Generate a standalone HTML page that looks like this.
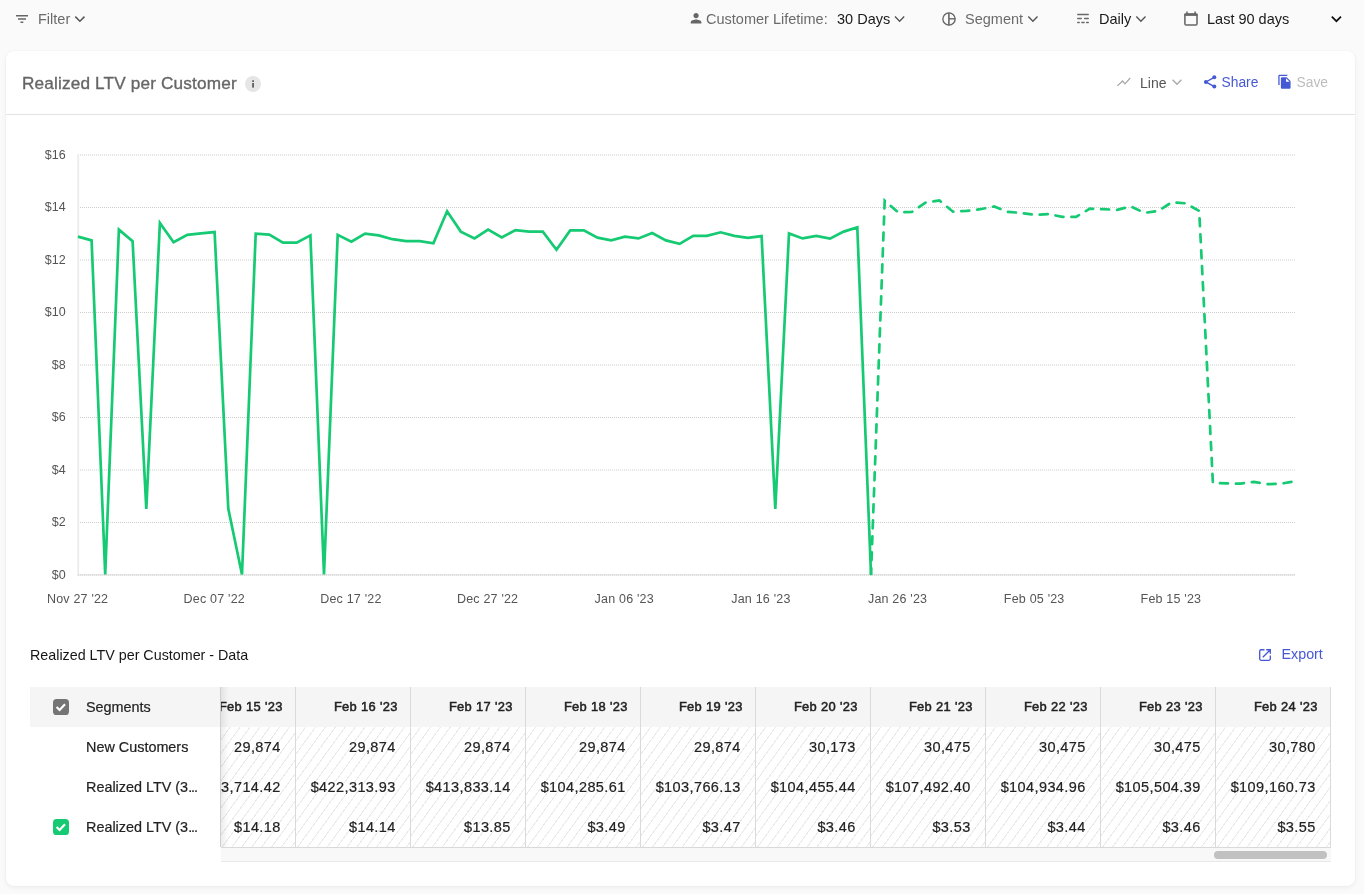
<!DOCTYPE html>
<html lang="en"><head><meta charset="utf-8"><title>Realized LTV per Customer</title>
<style>
*{box-sizing:border-box;margin:0;padding:0}
html,body{width:1364px;height:894px;overflow:hidden;background:#fafafa;font-family:"Liberation Sans",sans-serif;color:#222}
.abs{position:absolute}
.top span{position:absolute;top:10px;font-size:14.5px;line-height:18px;white-space:nowrap}
.grey{color:#6b6b6b}
.card{position:absolute;left:6px;top:51px;width:1349px;height:835px;background:#fff;border-radius:8px;box-shadow:0 2px 5px rgba(0,0,0,.05),0 0 2px rgba(0,0,0,.05)}
.hr{position:absolute;left:6px;top:114px;width:1349px;height:1px;background:#e3e3e3}
.title{position:absolute;left:22px;top:73px;font-size:17.2px;line-height:20px;color:#666;font-weight:400;letter-spacing:.16px;white-space:nowrap;-webkit-text-stroke:.35px #666}
.yl,.xl{font-size:12.5px;fill:#555;font-family:"Liberation Sans",sans-serif}
.xl{letter-spacing:.2px}
.sub{position:absolute;left:30px;top:646px;font-size:14.300px;line-height:18px;color:#161616;white-space:nowrap}
.exp{position:absolute;left:1281.500px;top:645px;font-size:14.300px;line-height:18px;color:#4659d4;white-space:nowrap}
.fix{position:absolute;left:30px;top:687px;width:190px;height:160px;background:#fff}
.fix .h{position:absolute;left:0;top:0;width:190px;height:40px;background:#f5f5f5}
.fix span{position:absolute;left:56px;font-size:14.400px;line-height:18px;white-space:nowrap;color:#222;-webkit-text-stroke:.2px #222}
.fix i{font-style:normal;letter-spacing:-1.100px}
.scroll{position:absolute;left:221px;top:687px;width:1110px;height:175px;overflow:hidden}
.inner{position:absolute;right:0;top:0;width:1150px;height:161px;border-bottom:1px solid #d9d9d9}
.inner{display:flex}
.col{width:115px;height:160px;border-right:1px solid #dadada;flex:none}
.bd{height:120px;background:repeating-linear-gradient(126deg,#e9e9e9 0,#e9e9e9 .250px,#fff .450px,#fff 7.250px,#e9e9e9 7.450px,#e9e9e9 8px)}
.td{height:40px;text-align:right;padding:11px 14.300px 0 0;font-size:14.500px;letter-spacing:.400px;line-height:18px;white-space:nowrap;color:#222;-webkit-text-stroke:.2px #222}
.th{background:#f5f5f5;font-weight:400;-webkit-text-stroke:.5px #222;font-size:12.900px;letter-spacing:.330px;padding-right:12.300px;color:#222}
.track{position:absolute;left:0;top:161px;width:1110px;height:14px;background:#f8f8f8;border-bottom:1px solid #e8e8e8}
.thumb{position:absolute;left:993px;top:3px;width:113px;height:8px;border-radius:4px;background:#c1c1c1}
.shadow{position:absolute;left:220px;top:687px;width:9px;height:160px;background:linear-gradient(90deg,rgba(0,0,0,.07),rgba(0,0,0,0));border-left:1px solid #cfcfcf}
</style></head><body>
<div class="top">
 <span class="grey" style="left:38px">Filter</span>
 <span class="grey" style="left:706px">Customer Lifetime:</span>
 <span style="left:837px;color:#1a1a1a">30 Days</span>
 <span class="grey" style="left:965px">Segment</span>
 <span style="left:1099px;color:#1a1a1a">Daily</span>
 <span style="left:1207px;color:#1a1a1a">Last 90 days</span>
</div>
<div class="card"></div>
<div class="title">Realized LTV per Customer</div>
<div class="abs" style="left:1140px;top:74px;font-size:14px;line-height:18px;color:#555">Line</div>
<div class="abs" style="left:1221.500px;top:74px;font-size:13.800px;line-height:18px;color:#4659d4">Share</div>
<div class="abs" style="left:1296.600px;top:74px;font-size:13.800px;line-height:18px;color:#bdbdbd">Save</div>
<svg class="abs" style="left:0;top:0" width="1364" height="120" viewBox="0 0 1364 120">
 <!-- filter -->
 <path d="M16 15.650h12M18 19.050h8M20.500 22.300h2.800" stroke="#666" stroke-width="1.500" fill="none"/>
 <path d="M75.300 16.600l4.600 4.600 4.600-4.600" fill="none" stroke="#555" stroke-width="1.500"/>
 <!-- person -->
 <g transform="translate(688.060,10.270) scale(.6667)"><path d="M12 12c2.210 0 4-1.790 4-4s-1.790-4-4-4-4 1.790-4 4 1.790 4 4 4zm0 2c-2.670 0-8 1.340-8 4v2h16v-2c0-2.660-5.330-4-8-4z" fill="#666"/></g>
 <path d="M895 16.600l4.600 4.600 4.600-4.600" fill="none" stroke="#555" stroke-width="1.400"/>
 <!-- segment -->
 <circle cx="949" cy="19" r="6.150" fill="none" stroke="#666" stroke-width="1.350"/>
 <path d="M948.900 12.800v12.400" stroke="#666" stroke-width="1.600" fill="none"/><path d="M949 18.800h6.200" stroke="#666" stroke-width="1.400" fill="none"/>
 <path d="M1028.300 16.600l4.600 4.600 4.600-4.600" fill="none" stroke="#555" stroke-width="1.400"/>
 <!-- daily -->
 <path d="M1077.700 14.500h10.600M1077.700 18.500h3.600M1084.550 18.500h3.750M1077.700 22.500h1.600M1081.800 22.500h2.400M1086.600 22.500h1.700" stroke="#6a6a6a" stroke-width="1.300" stroke-linecap="round" fill="none"/>
 <path d="M1136.300 16.600l4.600 4.600 4.600-4.600" fill="none" stroke="#555" stroke-width="1.400"/>
 <!-- calendar -->
 <rect x="1184.900" y="13.900" width="12.100" height="11.100" rx="1.300" fill="none" stroke="#666" stroke-width="1.550"/>
 <path d="M1184.300 13.600h13.300v2.300h-13.300z" fill="#666"/>
 <path d="M1187 11.400v2.500M1195.100 11.400v2.500" stroke="#666" stroke-width="1.500" fill="none"/>
 <path d="M1331.800 16.600l4.600 4.600 4.600-4.600" fill="none" stroke="#111" stroke-width="1.700"/>
 <!-- info -->
 <circle cx="253" cy="84" r="8" fill="#e6e6e6"/><rect x="252.200" y="80.300" width="1.700" height="1.700" fill="#555"/><rect x="252.200" y="83" width="1.700" height="4.600" fill="#555"/>
 <!-- line -->
 <path d="M1117.300 85.900l5.300-4.900 2.400 2.900 5.200-5.900" fill="none" stroke="#a8a8a8" stroke-width="1.250"/>
 <path d="M1172.600 79.800l4.400 4.500 4.400-4.500" fill="none" stroke="#aaa" stroke-width="1.400"/>
 <!-- share -->
 <path d="M1214.300 77.300l-8.400 4.600 8.400 4.700" fill="none" stroke="#4659d4" stroke-width="1.350"/>
 <circle cx="1214.300" cy="77.300" r="2" fill="#4659d4"/><circle cx="1205.900" cy="81.900" r="2" fill="#4659d4"/><circle cx="1214.300" cy="86.600" r="2" fill="#4659d4"/>
 <!-- copy -->
 <g transform="translate(1277,74) scale(.6458)"><path d="M16 1H4c-1.100 0-2 .9-2 2v14h2V3h12V1zm-1 4l6 6v10c0 1.100-.9 2-2 2H7.990C6.890 23 6 22.100 6 21l.010-14c0-1.100.890-2 1.990-2h7zm-1 7h5.500L14 6.500V12z" fill="#4659d4"/></g>
</svg>
<div class="hr"></div>

<svg class="abs" style="left:0;top:0" width="1364" height="640" viewBox="0 0 1364 640">
<style>.g{stroke:#cdcdcd;stroke-width:1;stroke-dasharray:1 1}</style>
<text x="65.700" y="158.5" text-anchor="end" class="yl">$16</text>
<text x="65.700" y="211.0" text-anchor="end" class="yl">$14</text>
<text x="65.700" y="263.5" text-anchor="end" class="yl">$12</text>
<text x="65.700" y="316.0" text-anchor="end" class="yl">$10</text>
<text x="65.700" y="368.5" text-anchor="end" class="yl">$8</text>
<text x="65.700" y="421.0" text-anchor="end" class="yl">$6</text>
<text x="65.700" y="473.5" text-anchor="end" class="yl">$4</text>
<text x="65.700" y="526.0" text-anchor="end" class="yl">$2</text>
<text x="65.700" y="578.5" text-anchor="end" class="yl">$0</text>

<text x="77.6" y="603" text-anchor="middle" class="xl">Nov 27 '22</text>
<text x="214.3" y="603" text-anchor="middle" class="xl">Dec 07 '22</text>
<text x="350.9" y="603" text-anchor="middle" class="xl">Dec 17 '22</text>
<text x="487.6" y="603" text-anchor="middle" class="xl">Dec 27 '22</text>
<text x="624.2" y="603" text-anchor="middle" class="xl">Jan 06 '23</text>
<text x="760.9" y="603" text-anchor="middle" class="xl">Jan 16 '23</text>
<text x="897.6" y="603" text-anchor="middle" class="xl">Jan 26 '23</text>
<text x="1034.2" y="603" text-anchor="middle" class="xl">Feb 05 '23</text>
<text x="1170.9" y="603" text-anchor="middle" class="xl">Feb 15 '23</text>

<clipPath id="c"><rect x="76" y="150" width="1222" height="424.300"/></clipPath>
<g transform="translate(0.900,1)">
<line x1="77.100" x2="1294" y1="154.0" y2="154.0" class="g"/>
<line x1="77.100" x2="1294" y1="206.5" y2="206.5" class="g"/>
<line x1="77.100" x2="1294" y1="259.0" y2="259.0" class="g"/>
<line x1="77.100" x2="1294" y1="311.5" y2="311.5" class="g"/>
<line x1="77.100" x2="1294" y1="364.0" y2="364.0" class="g"/>
<line x1="77.100" x2="1294" y1="416.5" y2="416.5" class="g"/>
<line x1="77.100" x2="1294" y1="469.0" y2="469.0" class="g"/>
<line x1="77.100" x2="1294" y1="521.5" y2="521.5" class="g"/>

<line x1="77.300" x2="77.300" y1="153.500" y2="574.800" stroke="#ececec" stroke-width="1.800"/>
<line x1="76.400" x2="1294" y1="573.850" y2="573.850" stroke="#ececec" stroke-width="1.900"/><line x1="77.100" x2="1294" y1="573.850" y2="573.850" stroke="#dadada" stroke-width="1.900" stroke-dasharray="1 1"/>
<g clip-path="url(#c)"><g transform="translate(0,-0.500)">
<polyline points="77.0,236.1 90.7,239.9 104.3,574.0 118.0,229.1 131.7,240.6 145.4,508.4 159.0,222.4 172.7,241.8 186.4,234.4 200.1,232.9 213.7,231.6 227.4,508.4 241.1,574.0 254.8,233.1 268.4,234.1 282.1,242.1 295.8,242.1 309.5,234.9 323.1,574.0 336.8,234.4 350.5,241.1 364.2,233.1 377.8,234.9 391.5,238.7 405.2,240.6 418.9,240.6 432.5,242.8 446.2,210.7 459.9,231.1 473.6,237.9 487.2,229.1 500.9,236.9 514.6,229.6 528.2,231.1 541.9,231.1 555.6,249.3 569.3,229.9 582.9,229.9 596.6,237.1 610.3,239.9 624.0,236.1 637.6,237.9 651.3,232.6 665.0,239.9 678.7,243.3 692.3,235.4 706.0,235.4 719.7,231.8 733.4,235.4 747.0,237.4 760.7,235.6 774.4,508.4 788.1,232.9 801.7,237.9 815.4,235.4 829.1,238.1 842.8,231.1 856.4,226.9 870.1,574.0" fill="none" stroke="#15ca72" stroke-width="2.700" stroke-linejoin="miter"/>
<polyline points="870.1,574.0 883.8,200.1 897.4,211.9 911.1,211.4 924.8,202.0 938.5,200.0 952.1,211.2 965.8,210.4 979.5,208.7 993.2,206.0 1006.8,211.3 1020.5,212.5 1034.2,214.4 1047.9,213.6 1061.5,216.4 1075.2,216.4 1088.9,208.2 1102.6,208.7 1116.2,209.4 1129.9,205.9 1143.6,212.4 1157.3,210.4 1170.9,201.8 1184.6,202.8 1198.3,210.4 1212.0,482.4 1225.6,482.9 1239.3,483.2 1253.0,481.3 1266.7,483.7 1280.3,483.2 1294.0,480.8" fill="none" stroke="#15ca72" stroke-width="2.700" stroke-dasharray="8 8" stroke-dashoffset="1.750" stroke-linecap="round" stroke-linejoin="miter"/>
</g></g>
</g>
</svg>

<div class="sub">Realized LTV per Customer - Data</div>
<svg class="abs" style="left:1250px;top:640px" width="30" height="30" viewBox="1250 640 30 30"><path d="M1264.500 649.700H1261.200a1.500 1.500 0 0 0-1.500 1.500V658.800a1.500 1.500 0 0 0 1.500 1.500H1268.800a1.500 1.500 0 0 0 1.500-1.500V655.500M1266.200 649.700H1270.300V653.800M1270.300 649.700L1262.800 657.200" fill="none" stroke="#4659d4" stroke-width="1.350"/></svg>
<div class="exp">Export</div>

<div class="scroll"><div class="inner">
<div class="col"><div class="td th">Feb 15 '23</div><div class="bd"><div class="td">29,874</div><div class="td">$423,714.42</div><div class="td">$14.18</div></div></div>
<div class="col"><div class="td th">Feb 16 '23</div><div class="bd"><div class="td">29,874</div><div class="td">$422,313.93</div><div class="td">$14.14</div></div></div>
<div class="col"><div class="td th">Feb 17 '23</div><div class="bd"><div class="td">29,874</div><div class="td">$413,833.14</div><div class="td">$13.85</div></div></div>
<div class="col"><div class="td th">Feb 18 '23</div><div class="bd"><div class="td">29,874</div><div class="td">$104,285.61</div><div class="td">$3.49</div></div></div>
<div class="col"><div class="td th">Feb 19 '23</div><div class="bd"><div class="td">29,874</div><div class="td">$103,766.13</div><div class="td">$3.47</div></div></div>
<div class="col"><div class="td th">Feb 20 '23</div><div class="bd"><div class="td">30,173</div><div class="td">$104,455.44</div><div class="td">$3.46</div></div></div>
<div class="col"><div class="td th">Feb 21 '23</div><div class="bd"><div class="td">30,475</div><div class="td">$107,492.40</div><div class="td">$3.53</div></div></div>
<div class="col"><div class="td th">Feb 22 '23</div><div class="bd"><div class="td">30,475</div><div class="td">$104,934.96</div><div class="td">$3.44</div></div></div>
<div class="col"><div class="td th">Feb 23 '23</div><div class="bd"><div class="td">30,475</div><div class="td">$105,504.39</div><div class="td">$3.46</div></div></div>
<div class="col"><div class="td th">Feb 24 '23</div><div class="bd"><div class="td">30,780</div><div class="td">$109,160.73</div><div class="td">$3.55</div></div></div>
</div>
<div class="track"><div class="thumb"></div></div>
</div>
<div class="fix"><div class="h"></div>
 <svg class="abs" style="left:23px;top:12px" width="16" height="16" viewBox="0 0 16 16"><rect width="16" height="16" rx="3.600" fill="#757575"/><path d="M3.600 8l3 3 5.400-5.700" fill="none" stroke="#fff" stroke-width="2.200"/></svg>
 <span style="top:11px">Segments</span>
 <span style="top:51px">New Customers</span>
 <span style="top:91px">Realized LTV (3<i>...</i></span>
 <svg class="abs" style="left:23px;top:132px" width="16" height="16" viewBox="0 0 16 16"><rect width="16" height="16" rx="3.600" fill="#15ca72"/><path d="M3.600 8l3 3 5.400-5.700" fill="none" stroke="#fff" stroke-width="2.200"/></svg>
 <span style="top:131px">Realized LTV (3<i>...</i></span>
</div>
<div class="shadow"></div>
</body></html>
